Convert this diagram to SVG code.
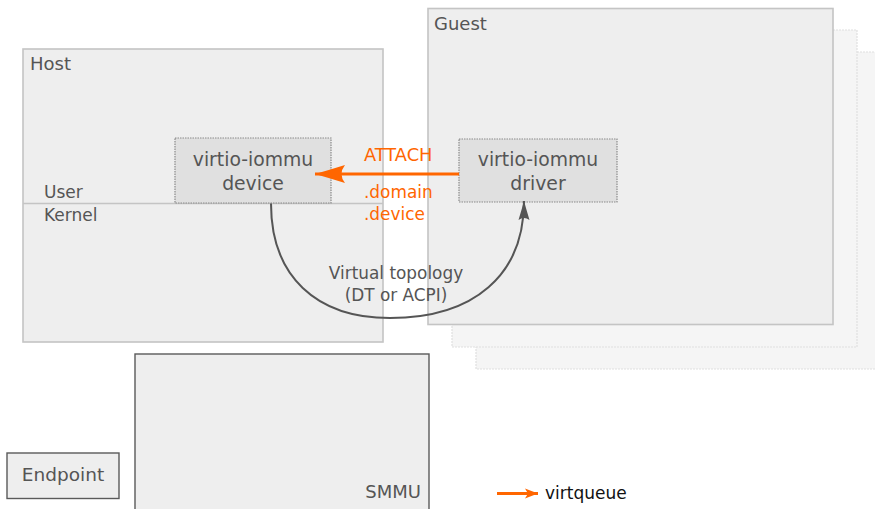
<svg xmlns="http://www.w3.org/2000/svg" width="875" height="509" viewBox="0 0 875 509">
<style>
text{font-family:"DejaVu Sans","Verdana",sans-serif;fill:#555555}
.frame{fill:#eeeeee;stroke:#c4c4c4;stroke-width:1.6}
.shadow{fill:#f5f5f5;stroke:#e0e0e0;stroke-width:1.2;stroke-dasharray:2,1}
.node{fill:#e0e0e0;stroke:#8a8a8a;stroke-width:1.2;stroke-dasharray:1.5,1}
.hw{fill:#eeeeee;stroke:#5a5a5a;stroke-width:1.4}
.orange{fill:#ff6600}
</style>
<defs>
<marker id="arrO" markerUnits="userSpaceOnUse" viewBox="-32 -10 34 20" refX="0" refY="0" markerWidth="34" markerHeight="20" orient="auto">
<path d="M0,0 Q-14,-4 -30,-9 Q-23,0 -30,9 Q-14,4 0,0 Z" fill="#ff6600"/>
</marker>
<marker id="arrG" markerUnits="userSpaceOnUse" viewBox="-21 -7 23 14" refX="0" refY="0" markerWidth="23" markerHeight="14" orient="auto">
<path d="M0,0 Q-9,-2.5 -19,-5.5 Q-15,0 -19,5.5 Q-9,2.5 0,0 Z" fill="#555555"/>
</marker>
<marker id="arrL" markerUnits="userSpaceOnUse" viewBox="-14 -6 16 12" refX="0" refY="0" markerWidth="16" markerHeight="12" orient="auto">
<path d="M0,0 L-13,-5 L-10,0 L-13,5 Z" fill="#ff6600"/>
</marker>
</defs>
<g id="guest-shadow-2"><rect class="shadow" x="476" y="52" width="410" height="317"/></g>
<g id="guest-shadow-1"><rect class="shadow" x="452" y="30" width="405" height="317"/></g>
<g id="host">
<rect class="frame" x="23" y="49" width="360" height="293"/>
<text x="30" y="69.5" font-size="18">Host</text>
<line x1="23" y1="203.5" x2="383" y2="203.5" stroke="#c4c4c4" stroke-width="1.6"/>
<text x="44" y="197.5" font-size="17">User</text>
<text x="44" y="221" font-size="17">Kernel</text>
</g>
<g id="guest">
<rect class="frame" x="428" y="8.5" width="405" height="316"/>
<text x="434" y="30" font-size="18">Guest</text>
</g>
<g id="device">
<rect class="node" x="175" y="138" width="156" height="65"/>
<text x="253" y="165.5" font-size="18.8" text-anchor="middle">virtio-iommu</text>
<text x="253" y="189.5" font-size="18.8" text-anchor="middle">device</text>
</g>
<g id="driver">
<rect class="node" x="459" y="139" width="158" height="63"/>
<text x="538" y="165.5" font-size="18.8" text-anchor="middle">virtio-iommu</text>
<text x="538" y="189.5" font-size="18.8" text-anchor="middle">driver</text>
</g>
<g id="endpoint">
<rect class="hw" x="7" y="453" width="112" height="45.5"/>
<text x="63" y="481" font-size="18.5" text-anchor="middle">Endpoint</text>
</g>
<g id="smmu">
<rect class="hw" x="135" y="354" width="294" height="160"/>
<text x="421" y="497.5" font-size="18" text-anchor="end">SMMU</text>
</g>
<g id="connectors">
<line x1="459" y1="174" x2="315" y2="174" stroke="#ff6600" stroke-width="3.2" marker-end="url(#arrO)"/>
<text x="364" y="161" font-size="17.8" style="fill:#ff6600">ATTACH</text>
<text x="364" y="197.5" font-size="16.9" style="fill:#ff6600">.domain</text>
<text x="364" y="219.5" font-size="16.9" style="fill:#ff6600">.device</text>
<path d="M271,203.5 C271,276 316,318 390,318 C474,318 524,275 524,201" fill="none" stroke="#555555" stroke-width="2" marker-end="url(#arrG)"/>
<text x="396" y="278.5" font-size="16.9" text-anchor="middle">Virtual topology</text>
<text x="396" y="300.5" font-size="16.9" text-anchor="middle">(DT or ACPI)</text>
</g>
<g id="legend">
<line x1="497" y1="493.5" x2="538" y2="493.5" stroke="#ff6600" stroke-width="3" marker-end="url(#arrL)"/>
<text x="545" y="499" font-size="17" style="fill:#111111">virtqueue</text>
</g>
</svg>
